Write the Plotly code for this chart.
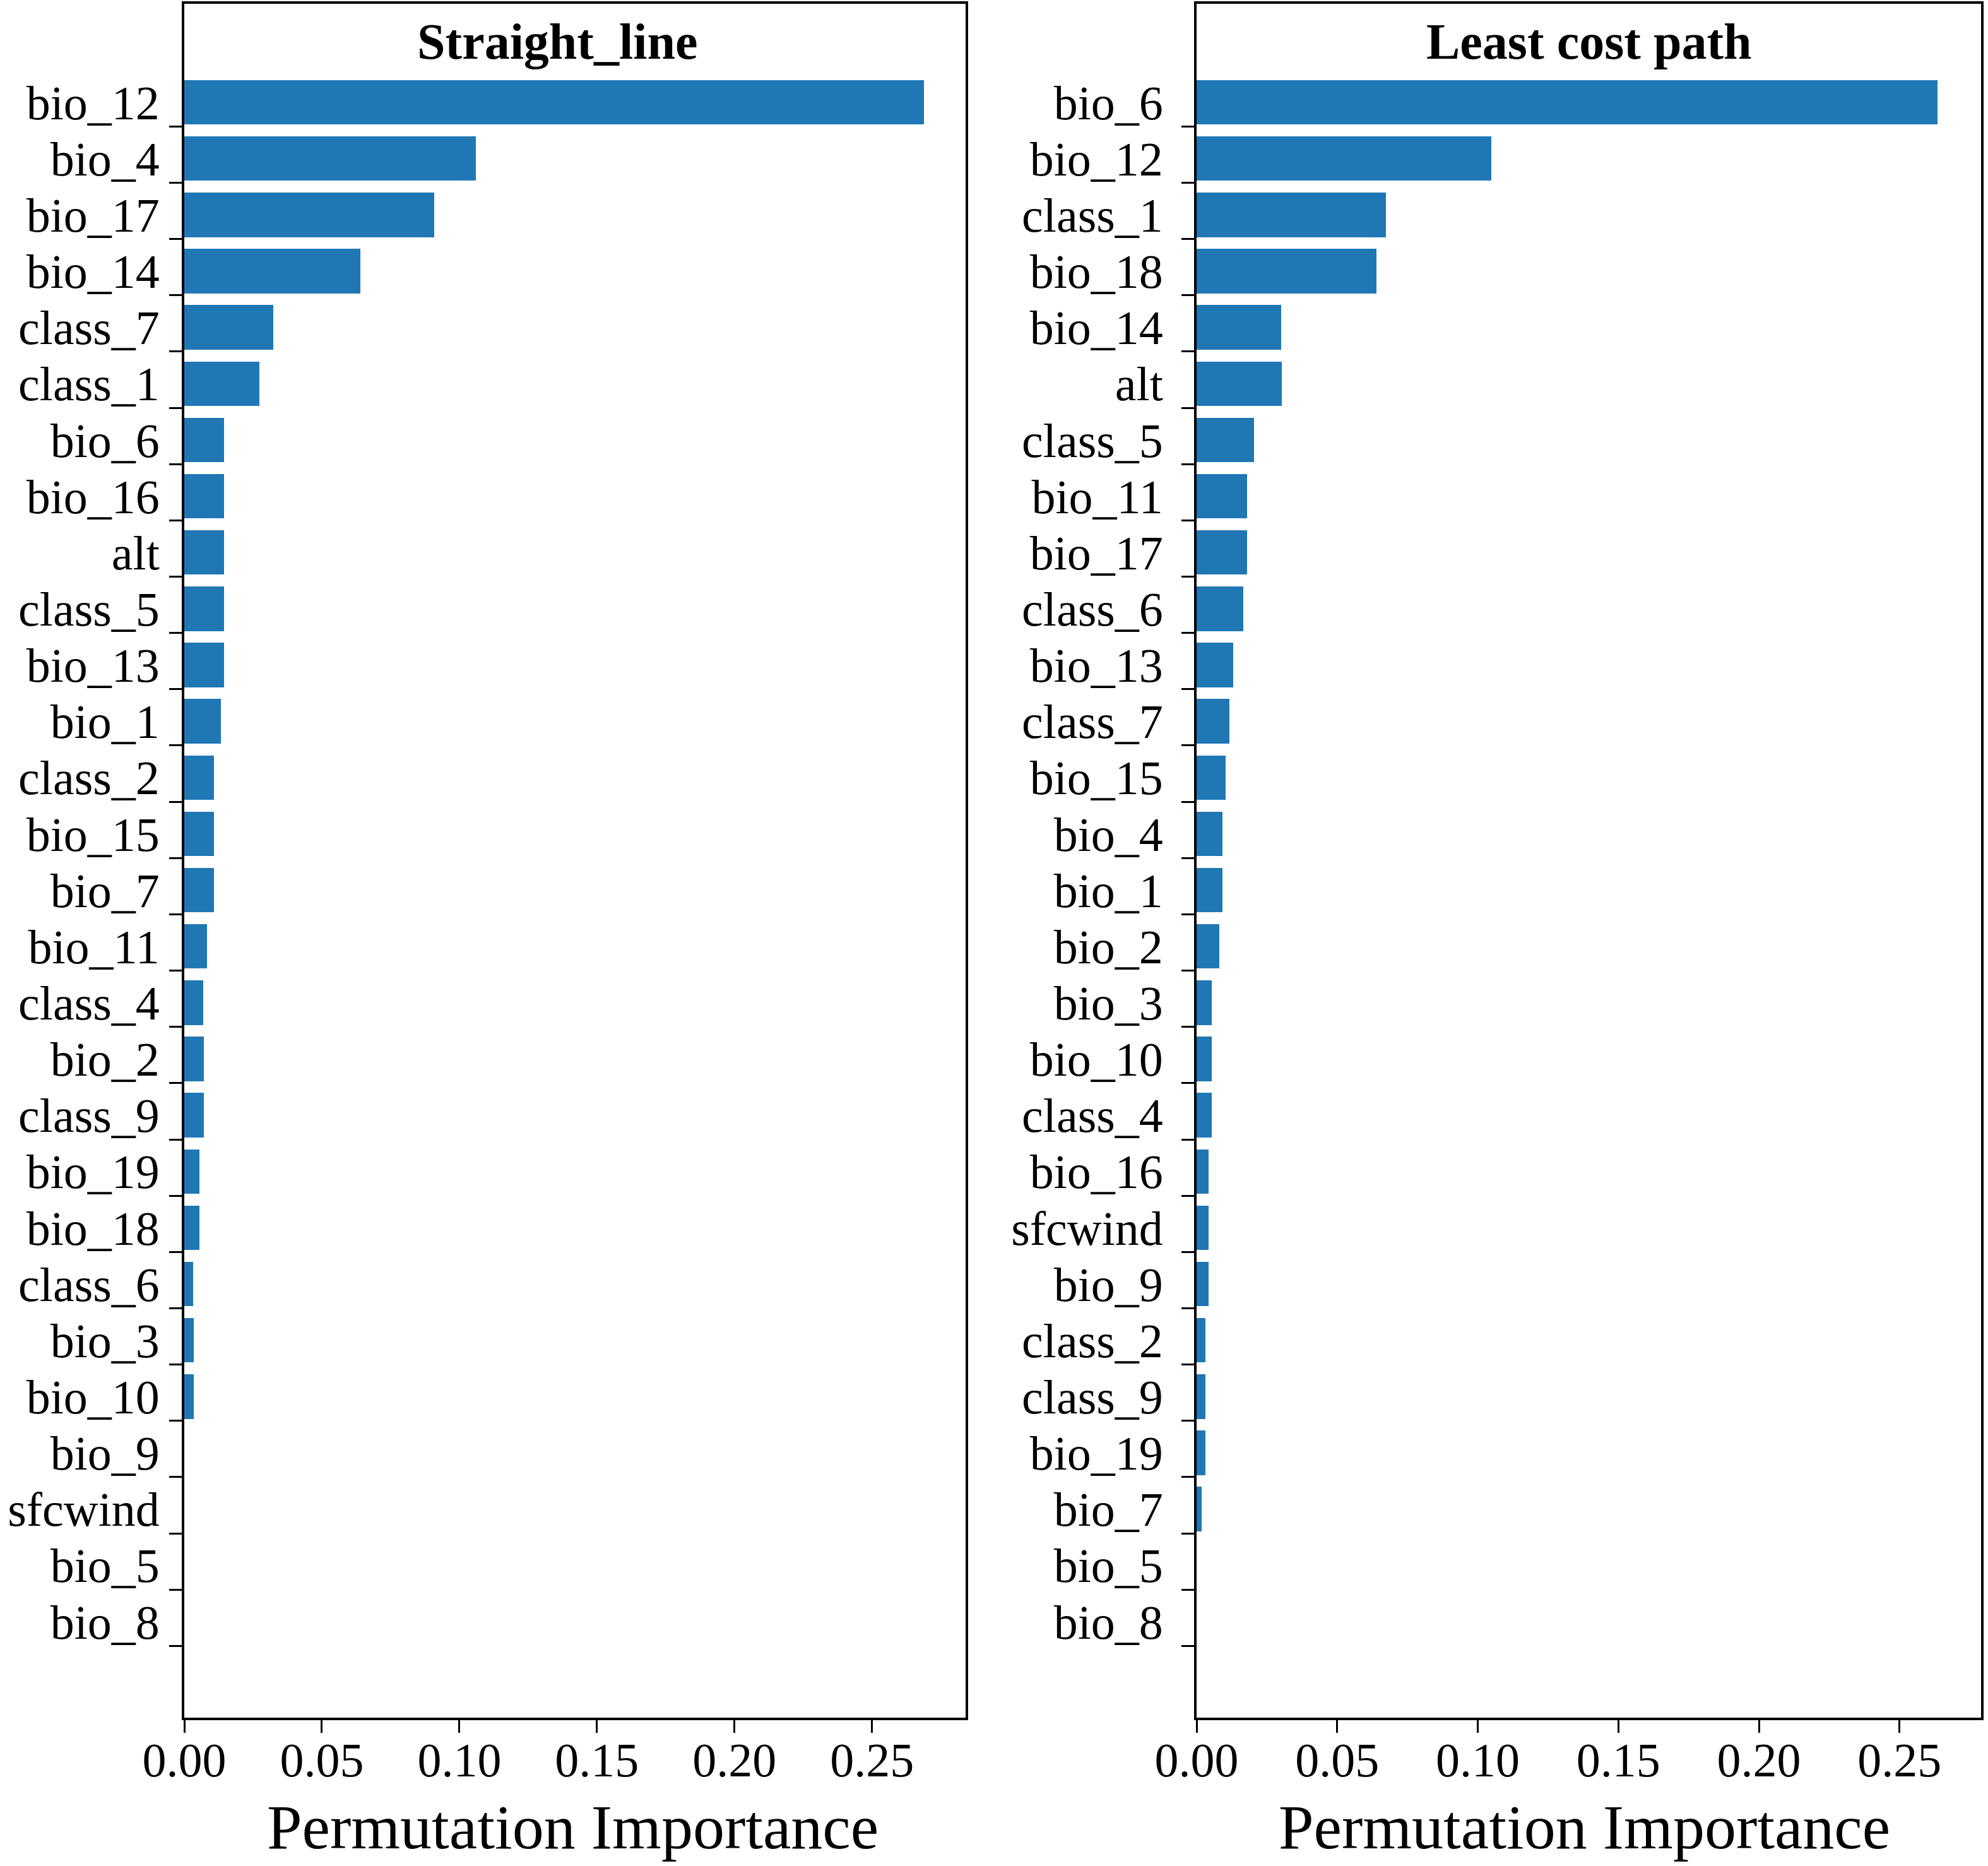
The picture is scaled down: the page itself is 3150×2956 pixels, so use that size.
import plotly.graph_objects as go

# permutation importance (top bar first)
straight_labels = ["bio_12", "bio_4", "bio_17", "bio_14", "class_7", "class_1", "bio_6",
                   "bio_16", "alt", "class_5", "bio_13", "bio_1", "class_2", "bio_15",
                   "bio_7", "bio_11", "class_4", "bio_2", "class_9", "bio_19", "bio_18",
                   "class_6", "bio_3", "bio_10", "bio_9", "sfcwind", "bio_5", "bio_8"]
straight_values = [0.2689, 0.1060, 0.0908, 0.0641, 0.0324, 0.0272, 0.0144,
                   0.0145, 0.0145, 0.0145, 0.0145, 0.0132, 0.0107, 0.0107,
                   0.0108, 0.0082, 0.0069, 0.0070, 0.0070, 0.0056, 0.0056,
                   0.0033, 0.0034, 0.0034, 0.0, 0.0, 0.0, 0.0]

lcp_labels = ["bio_6", "bio_12", "class_1", "bio_18", "bio_14", "alt", "class_5",
              "bio_11", "bio_17", "class_6", "bio_13", "class_7", "bio_15", "bio_4",
              "bio_1", "bio_2", "bio_3", "bio_10", "class_4", "bio_16", "sfcwind",
              "bio_9", "class_2", "class_9", "bio_19", "bio_7", "bio_5", "bio_8"]
lcp_values = [0.2635, 0.1049, 0.0674, 0.0639, 0.0301, 0.0303, 0.0204,
              0.0180, 0.0180, 0.0165, 0.0130, 0.0116, 0.0104, 0.0091,
              0.0093, 0.0080, 0.0054, 0.0054, 0.0054, 0.0043, 0.0043,
              0.0043, 0.0032, 0.0032, 0.0032, 0.0017, 0.0, 0.0]

x_ticks = [0.00, 0.05, 0.10, 0.15, 0.20, 0.25]
panel_titles = ["Straight_line", "Least cost path"]
x_title = "Permutation Importance"

W, H = 3150, 2956
FONT = "Liberation Serif"
BLUE = "#1f77b4"

panels = [
    dict(labels=straight_labels, values=straight_values, xdom=[292 / W, 1530 / W],
         xmax=0.284, tx=883 / W, ax=907 / W, ystand=0),
    dict(labels=lcp_labels, values=lcp_values, xdom=[1896 / W, 3139 / W],
         xmax=0.279, tx=2518 / W, ax=2510 / W, ystand=14),
]
ydom = [1 - 2721 / H, 1 - 6 / H]

fig = go.Figure()
annotations = []
for k, p in enumerate(panels):
    n = len(p["labels"])
    pos = list(range(n))
    sfx = "" if k == 0 else str(k + 1)
    fig.add_trace(go.Bar(x=p["values"], y=pos, orientation="h", width=0.79,
                         marker=dict(color=BLUE, line=dict(width=0)),
                         xaxis="x" + sfx, yaxis="y" + sfx, showlegend=False))
    fig.update_layout(**{
        "xaxis" + sfx: dict(domain=p["xdom"], anchor="y" + sfx, range=[0, p["xmax"]],
                            tickvals=x_ticks, tickformat=".2f", ticks="outside",
                            ticklen=20, tickwidth=3, tickcolor="black",
                            ticklabelstandoff=-22,
                            showline=True, linewidth=4, linecolor="black", mirror=True,
                            showgrid=False, zeroline=False, automargin=False,
                            tickfont=dict(family=FONT, size=76, color="black")),
        "yaxis" + sfx: dict(domain=ydom, anchor="x" + sfx, range=[n + 0.705, -1.75],
                            tickvals=pos, ticktext=p["labels"], ticks="outside",
                            ticklen=20, tickcolor="rgba(0,0,0,0)",
                            ticklabelstandoff=p["ystand"],
                            minor=dict(tickvals=[i + 0.43 for i in pos], ticks="outside",
                                       ticklen=20, tickwidth=3, tickcolor="black",
                                       showgrid=False),
                            showline=True, linewidth=4, linecolor="black", mirror=True,
                            showgrid=False, zeroline=False, automargin=False,
                            tickfont=dict(family=FONT, size=76, color="black")),
    })
    annotations.append(dict(text="<b>" + panel_titles[k] + "</b>", x=p["tx"], y=1 - 66 / H,
                            xref="paper", yref="paper", xanchor="center", yanchor="middle",
                            showarrow=False, font=dict(family=FONT, size=80, color="black")))
    annotations.append(dict(text=x_title, x=p["ax"], y=1 - 2894 / H,
                            xref="paper", yref="paper", xanchor="center", yanchor="middle",
                            showarrow=False, font=dict(family=FONT, size=100, color="black")))

fig.update_layout(width=W, height=H, margin=dict(l=0, r=0, t=0, b=0),
                  paper_bgcolor="white", plot_bgcolor="white", template="none",
                  bargap=0, annotations=annotations)

fig.write_html("out.html", config={"displayModeBar": False},
               post_script="document.body.style.margin='0';")
